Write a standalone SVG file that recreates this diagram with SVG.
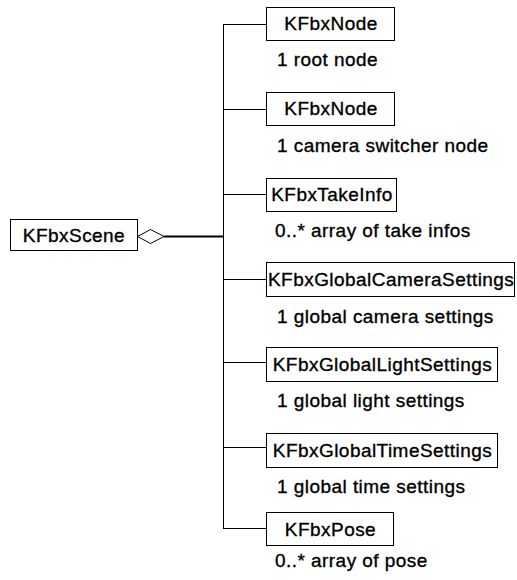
<svg xmlns="http://www.w3.org/2000/svg" width="517" height="580" viewBox="0 0 517 580">
<style>
.box{fill:#fff;stroke:#000;stroke-width:1}
.t{font-family:"Liberation Sans",Arial,sans-serif;font-size:19px;letter-spacing:0.45px;fill:#000;stroke:#000;stroke-width:0.35px}
.c{text-anchor:middle}
.ln{stroke:#000;stroke-width:1;fill:none}
</style>
<g id="connectors">
<line class="ln" x1="223.5" y1="24.5" x2="223.5" y2="528.5"/>
<line class="ln" x1="223" y1="24.5" x2="266" y2="24.5"/>
<line class="ln" x1="223" y1="109.5" x2="266" y2="109.5"/>
<line class="ln" x1="223" y1="194.5" x2="266" y2="194.5"/>
<line class="ln" x1="223" y1="279.5" x2="266" y2="279.5"/>
<line class="ln" x1="223" y1="362.5" x2="266" y2="362.5"/>
<line class="ln" x1="223" y1="447.5" x2="266" y2="447.5"/>
<line class="ln" x1="223" y1="528.5" x2="266" y2="528.5"/>
<line x1="164" y1="236.5" x2="224" y2="236.5" stroke="#000" stroke-width="2"/>
<polygon points="137.5,236.5 150.5,229.5 164,236.5 150.5,243.5" fill="#fff" stroke="#000" stroke-width="1"/>
</g>
<g id="scene">
<rect class="box" x="10.5" y="219.5" width="127" height="31"/>
<text class="t c" x="74" y="242">KFbxScene</text>
</g>
<g id="node1">
<rect class="box" x="266.5" y="7.5" width="128" height="33"/>
<text class="t c" x="331" y="30">KFbxNode</text>
<text class="t" x="277" y="66">1 root node</text>
</g>
<g id="node2">
<rect class="box" x="266.5" y="92.5" width="128" height="33"/>
<text class="t c" x="331" y="115">KFbxNode</text>
<text class="t" x="277" y="152">1 camera switcher node</text>
</g>
<g id="takeinfo">
<rect class="box" x="266.5" y="178.5" width="130" height="33"/>
<text class="t c" x="332" y="201">KFbxTakeInfo</text>
<text class="t" x="275" y="237">0..* array of take infos</text>
</g>
<g id="camera">
<rect class="box" x="266.5" y="262.5" width="248" height="34"/>
<text class="t" x="268" y="286">KFbxGlobalCameraSettings</text>
<text class="t" x="277" y="323">1 global camera settings</text>
</g>
<g id="light">
<rect class="box" x="266.5" y="347.5" width="231" height="34"/>
<text class="t c" x="382.5" y="371">KFbxGlobalLightSettings</text>
<text class="t" x="277" y="407">1 global light settings</text>
</g>
<g id="time">
<rect class="box" x="266.5" y="433.5" width="231" height="34"/>
<text class="t c" x="382.5" y="457">KFbxGlobalTimeSettings</text>
<text class="t" x="277" y="493">1 global time settings</text>
</g>
<g id="pose">
<rect class="box" x="266.5" y="512.5" width="127" height="33"/>
<text class="t c" x="330.5" y="536">KFbxPose</text>
<text class="t" x="275" y="567">0..* array of pose</text>
</g>
</svg>
